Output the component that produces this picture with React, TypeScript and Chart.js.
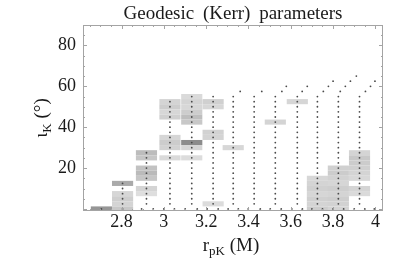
import React, { useEffect, useRef } from "react";
import { Chart, registerables } from "chart.js";
Chart.register(...registerables);

// ---------- data ----------
const titleText = "Geodesic (Kerr) parameters";
const xTicks = [2.8, 3, 3.2, 3.4, 3.6, 3.8, 4];
const yTicks = [20, 40, 60, 80];
const xMin = 2.618;
const xMax = 4.036;
const yMin = -1;
const yMax = 90;

// sampled inclination grid (deg)
const iotaGrid = [2.5, 5, 7.5, 10, 12.5, 15, 17.5, 20, 22.5, 25, 27.5, 30, 32.5, 35, 37.5, 40, 42.5, 45, 47.5, 50, 52.5, 55];
// columns of geodesic samples: r_pK of the straight part and highest iota of it
const colR = [2.705, 2.805, 2.918, 3.029, 3.132, 3.233, 3.328, 3.427, 3.527, 3.631, 3.726, 3.825, 3.925];
const colTop = [0, 12.5, 27.5, 52.5, 55, 55, 55, 55, 55, 55, 55, 55, 55];
// samples at iota = 0 (bottom row)
const bottomRowR = [2.705, 2.805, 2.895, 2.95, 3.0, 3.05, 3.101, 3.158, 3.205, 3.257, 3.304, 3.352, 3.399, 3.456, 3.503, 3.555, 3.605, 3.655, 3.7, 3.75, 3.8, 3.85, 3.9, 3.95, 3.995];
// samples bending towards larger r at high inclination: [r, iota]
const leanDots: [number, number][] = [
  [3.361, 57.5],
  [3.463, 57.5],
  [3.558, 57.5], [3.579, 60],
  [3.654, 57.5], [3.678, 60],
  [3.754, 57.5], [3.778, 60], [3.8, 62.5],
  [3.834, 57.5], [3.858, 60], [3.882, 62.5], [3.91, 65],
  [3.953, 57.5], [3.977, 60], [3.998, 62.5],
];
// shaded cells: [column index, iota, gray level]
const cells: [number, number, number][] = [
  [0, 0, 150],
  [1, 12.5, 170], [1, 7.5, 214], [1, 5, 206], [1, 2.5, 212], [1, 0, 200],
  [2, 27.5, 188], [2, 25, 198], [2, 20, 194], [2, 17.5, 186], [2, 15, 198], [2, 10, 212], [2, 7.5, 222],
  [3, 52.5, 212], [3, 50, 205], [3, 47.5, 215], [3, 45, 208], [3, 35, 214], [3, 32.5, 204], [3, 30, 210], [3, 25, 218],
  [4, 55, 218], [4, 52.5, 212], [4, 50, 215], [4, 47.5, 205], [4, 45, 190], [4, 42.5, 200], [4, 32.5, 140], [4, 30, 214], [4, 25, 220],
  [5, 52.5, 208], [5, 50, 215], [5, 37.5, 210], [5, 35, 212], [5, 2.5, 220],
  [6, 30, 215],
  [8, 42.5, 212],
  [9, 52.5, 214],
  [10, 15, 215], [10, 12.5, 212], [10, 10, 208], [10, 7.5, 214], [10, 5, 208], [10, 2.5, 212], [10, 0, 205],
  [11, 20, 208], [11, 17.5, 204], [11, 15, 210], [11, 12.5, 214], [11, 10, 206], [11, 7.5, 212], [11, 5, 206], [11, 2.5, 210], [11, 0, 212],
  [12, 27.5, 212], [12, 25, 200], [12, 22.5, 204], [12, 20, 208], [12, 17.5, 212], [12, 15, 216], [12, 10, 212], [12, 7.5, 218],
];

// ---------- styling constants ----------
const cellHalfW = 0.05;
const cellHalfH = 1.25;
const serif = "'Liberation Serif', 'Times New Roman', serif";
const frameColor = "#a4a4a4";
const textColor = "#1a1a1a";

function buildDots() {
  const pts: { x: number; y: number }[] = [];
  bottomRowR.forEach((r) => pts.push({ x: r, y: 0 }));
  colR.forEach((r, i) => {
    iotaGrid.forEach((iota) => {
      if (iota <= colTop[i]) pts.push({ x: r, y: iota });
    });
  });
  leanDots.forEach(([r, iota]) => pts.push({ x: r, y: iota }));
  return pts;
}

const cellPlugin = {
  id: "cells",
  beforeDatasetsDraw(chart: any) {
    const { ctx, chartArea, scales } = chart;
    const xs = scales.x, ys = scales.y;
    ctx.save();
    ctx.beginPath();
    ctx.rect(chartArea.left, chartArea.top, chartArea.right - chartArea.left, chartArea.bottom - chartArea.top);
    ctx.clip();
    for (const [c, iota, g] of cells) {
      const r = colR[c];
      const x0 = xs.getPixelForValue(r - cellHalfW);
      const x1 = xs.getPixelForValue(r + cellHalfW);
      const y0 = ys.getPixelForValue(iota + cellHalfH);
      const y1 = ys.getPixelForValue(iota - cellHalfH);
      ctx.fillStyle = `rgb(${g},${g},${g})`;
      ctx.fillRect(x0, y0, x1 - x0, y1 - y0);
    }
    ctx.restore();
  },
};

function drawPieces(ctx: CanvasRenderingContext2D, pieces: { t: string; size: number; dy: number }[], cx: number, baseY: number) {
  let total = 0;
  for (const p of pieces) {
    ctx.font = `${p.size}px ${serif}`;
    total += ctx.measureText(p.t).width;
  }
  let x = cx - total / 2;
  ctx.textAlign = "left";
  ctx.textBaseline = "alphabetic";
  for (const p of pieces) {
    ctx.font = `${p.size}px ${serif}`;
    ctx.fillText(p.t, x, baseY + p.dy);
    x += ctx.measureText(p.t).width;
  }
}

const framePlugin = {
  id: "frame",
  afterDraw(chart: any) {
    const { ctx, chartArea, scales } = chart;
    const xs = scales.x, ys = scales.y;
    const { left, right, top, bottom } = chartArea;
    ctx.save();
    ctx.strokeStyle = frameColor;
    ctx.lineWidth = 1;
    ctx.strokeRect(left + 0.5, top + 0.5, right - left - 1, bottom - top - 1);
    ctx.beginPath();
    for (let k = Math.ceil(xMin / 0.05); k * 0.05 <= xMax; k++) {
      const v = k * 0.05;
      const major = k % 4 === 0;
      const len = major ? 4 : 2;
      const px = Math.round(xs.getPixelForValue(v)) + 0.5;
      ctx.moveTo(px, bottom); ctx.lineTo(px, bottom - len);
      ctx.moveTo(px, top); ctx.lineTo(px, top + len);
    }
    for (let v = 0; v <= yMax; v += 5) {
      const major = v % 20 === 0;
      const len = major ? 4 : 2;
      const py = Math.round(ys.getPixelForValue(v)) + 0.5;
      ctx.moveTo(left, py); ctx.lineTo(left + len, py);
      ctx.moveTo(right, py); ctx.lineTo(right - len, py);
    }
    ctx.stroke();

    // title
    ctx.fillStyle = textColor;
    ctx.font = `19px ${serif}`;
    ctx.textAlign = "center";
    ctx.textBaseline = "alphabetic";
    try { (ctx as any).wordSpacing = "4px"; } catch (e) {}
    ctx.fillText(titleText, (left + right) / 2, 19);
    try { (ctx as any).wordSpacing = "0px"; } catch (e) {}

    // x axis title
    drawPieces(ctx, [
      { t: "r", size: 19, dy: 0 },
      { t: "pK", size: 13, dy: 4 },
      { t: " (M)", size: 19, dy: 0 },
    ], (left + right) / 2 - 2, 251);

    // y axis title (rotated)
    ctx.save();
    ctx.translate(47, (top + bottom) / 2);
    ctx.rotate(-Math.PI / 2);
    drawPieces(ctx, [
      { t: "ι", size: 19, dy: 0 },
      { t: "K", size: 13, dy: 4 },
      { t: " (°)", size: 19, dy: 0 },
    ], 0, 0);
    ctx.restore();
    ctx.restore();
  },
};

export default function App() {
  const ref = useRef<HTMLCanvasElement | null>(null);
  useEffect(() => {
    if (!ref.current) return;
    const chart = new Chart(ref.current, {
      type: "scatter",
      data: {
        datasets: [
          {
            data: buildDots(),
            pointRadius: 0.9,
            pointBackgroundColor: "#4a4a4a",
            pointBorderWidth: 0,
            showLine: false,
          },
        ],
      },
      options: {
        responsive: false,
        animation: false,
        events: [],
        layout: { padding: { left: 0, top: 25, right: 32, bottom: 0 } },
        plugins: { legend: { display: false }, tooltip: { enabled: false }, title: { display: false } },
        scales: {
          x: {
            type: "linear",
            min: xMin,
            max: xMax,
            grid: { display: false, drawTicks: false },
            border: { display: false },
            afterBuildTicks: (s: any) => { s.ticks = xTicks.map((v) => ({ value: v })); },
            afterFit: (s: any) => { s.height = 47; },
            ticks: {
              padding: 0,
              maxRotation: 0,
              autoSkip: false,
              color: textColor,
              font: { family: serif, size: 18 },
              callback: (v: any) => String(v),
            },
          },
          y: {
            type: "linear",
            min: yMin,
            max: yMax,
            grid: { display: false, drawTicks: false },
            border: { display: false },
            afterBuildTicks: (s: any) => { s.ticks = yTicks.map((v) => ({ value: v })); },
            afterFit: (s: any) => { s.width = 83; },
            ticks: {
              padding: 7,
              autoSkip: false,
              color: textColor,
              font: { family: serif, size: 18 },
              callback: (v: any) => String(v),
            },
          },
        },
      },
      plugins: [cellPlugin, framePlugin],
    });
    return () => chart.destroy();
  }, []);
  return (
    <div style={{ position: "absolute", left: 0, top: 0, width: 415, height: 258, background: "#fff" }}>
      <canvas ref={ref} width={415} height={258} style={{ display: "block" }} />
    </div>
  );
}
